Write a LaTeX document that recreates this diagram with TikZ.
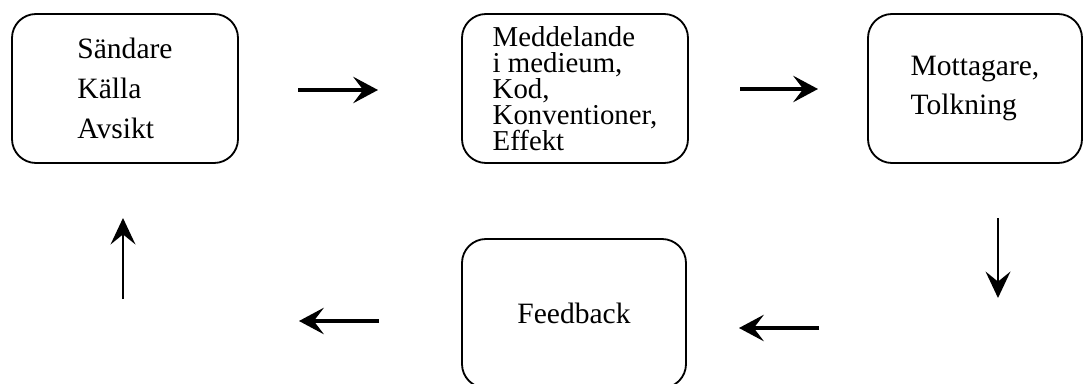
\documentclass[tikz,border=0pt]{standalone}
\usepackage{fontspec}
\setmainfont{Liberation Serif}
\usetikzlibrary{arrows.meta}

\tikzset{
    stage/.style={draw, line width=1.3pt, rounded corners=0.6cm, align=left,
        minimum width=5.65cm, minimum height=3.725cm, inner sep=0pt,
        font=\fontsize{21}{28.4}\selectfont},
    flow/.style={line width=2.4pt, -{Stealth[length=0.62cm, width=0.66cm, inset=0.25cm]}},
    thinflow/.style={line width=1.6pt, -{Stealth[length=0.66cm, width=0.62cm, inset=0.25cm]}}
}

\begin{document}
\begin{tikzpicture}
    \useasboundingbox (0, 0) rectangle (27.1, 9.575);

    \node [stage] (sender) at (3.125, 7.3625) {S\"andare\\K\"alla\\Avsikt};
    \node [stage, font=\fontsize{20.5}{18.6}\selectfont] (message) at (14.375, 7.3625)
        {Meddelande\\i medieum,\\Kod,\\Konventioner,\\Effekt};
    \node [stage, minimum width=5.35cm] (receiver) at (24.375, 7.3625)
        {Mottagare,\\Tolkning};
    \node [stage, minimum width=5.6cm] (feedback) at (14.35, 1.7375) {Feedback};

    \coordinate (a1s) at (7.45, 7.325);
    \coordinate (a1e) at (9.45, 7.325);
    \coordinate (a2s) at (18.5, 7.35);
    \coordinate (a2e) at (20.45, 7.35);
    \coordinate (a3s) at (24.95, 4.125);
    \coordinate (a3e) at (24.95, 2.125);
    \coordinate (a4s) at (20.475, 1.375);
    \coordinate (a4e) at (18.475, 1.375);
    \coordinate (a5s) at (9.475, 1.55);
    \coordinate (a5e) at (7.475, 1.55);
    \coordinate (a6s) at (3.075, 2.1);
    \coordinate (a6e) at (3.075, 4.125);

    \draw [flow] (a1s) -- (a1e);
    \draw [flow] (a2s) -- (a2e);
    \draw [thinflow] (a3s) -- (a3e);
    \draw [flow] (a4s) -- (a4e);
    \draw [flow] (a5s) -- (a5e);
    \draw [thinflow] (a6s) -- (a6e);
\end{tikzpicture}
\end{document}
